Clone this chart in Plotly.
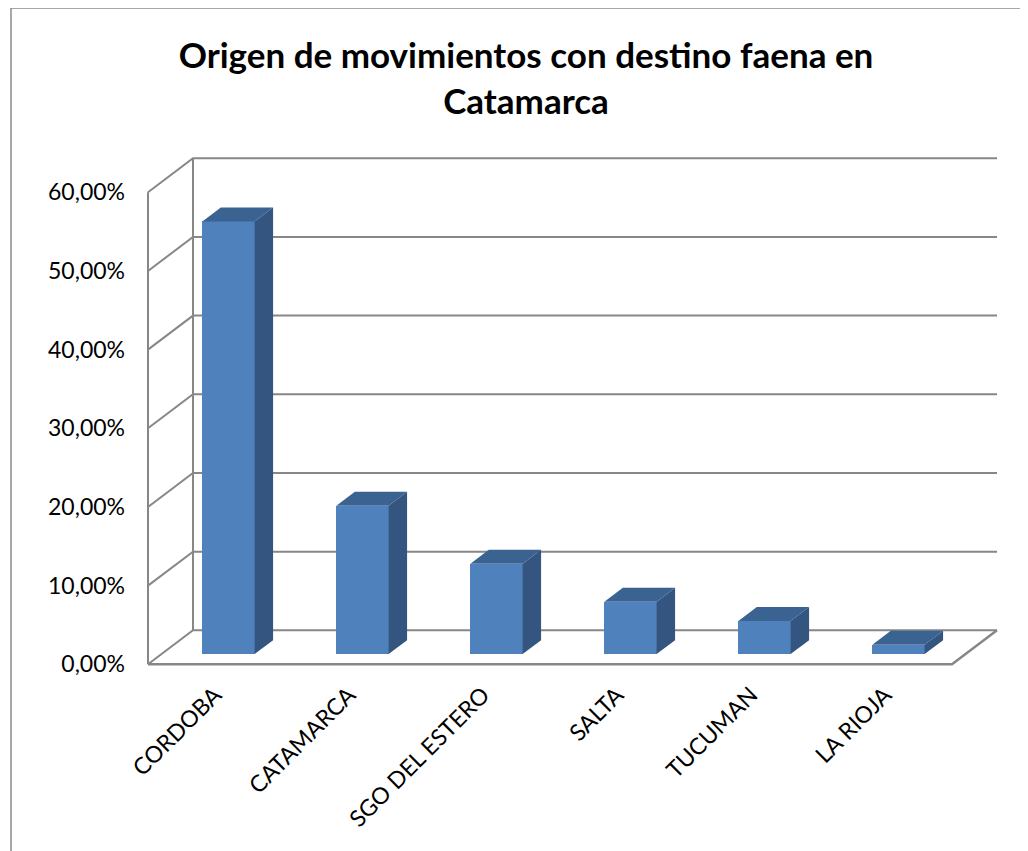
import plotly.graph_objects as go

# ---------------- data ----------------
categories = ["CORDOBA", "CATAMARCA", "SGO DEL ESTERO", "SALTA", "TUCUMAN", "LA RIOJA"]
values = [55.0, 18.85, 11.5, 6.65, 4.2, 1.2]          # percent
y_ticks = [0, 10, 20, 30, 40, 50, 60]
y_tick_labels = [f"{v:.2f}".replace(".", ",") + "%" for v in y_ticks]
title_text = "Origen de movimientos con destino faena en<br>Catamarca"

# ---------------- pseudo-3D geometry (axis units) ----------------
PX_X = 134.0          # px per category
PX_Y = 7.867          # px per percent
DX = 45 / PX_X        # depth offset in x units
DY = 34 / PX_Y        # depth offset in y units
BW = 0.39             # bar width
F0, F1 = 0.30, 0.71   # bar front/back depth fractions
W = F1 - F0

FRONT = "#4F81BD"
TOP = "#3B6392"
SIDE = "#33557F"
GRID = "#878787"

OFF = 8  # page body margin offset
WIDTH, HEIGHT = 1028, 851
# layout in figure pixels (page px minus OFF)
L, R, T, B = 144 - OFF, 18 + OFF, 150 - OFF, 184 + OFF
plot_w = WIDTH - L - R
plot_h = HEIGHT - T - B
x_min = -0.5 - (148 - (L + OFF)) / PX_X
x_max = x_min + plot_w / PX_X
y_min = -((T + OFF + plot_h) - 664.3) / PX_Y
y_max = y_min + plot_h / PX_Y

n = len(categories)
x_left, x_right = -0.5, n - 0.5

fig = go.Figure()

# walls / gridlines (shapes below traces)
shapes = []
line_style = dict(color=GRID, width=2)
for v in y_ticks:
    path = f"M {x_left},{v} L {x_left + DX},{v + DY} L {x_right + DX},{v + DY}"
    shapes.append(dict(type="path", path=path, xref="x", yref="y", line=line_style, layer="below"))
# front left axis line
shapes.append(dict(type="line", xref="x", yref="y", x0=x_left, x1=x_left, y0=0, y1=y_ticks[-1],
                   line=line_style, layer="below"))
# back left vertical
shapes.append(dict(type="line", xref="x", yref="y", x0=x_left + DX, x1=x_left + DX, y0=DY,
                   y1=y_ticks[-1] + DY, line=line_style, layer="below"))
# floor front edge and right edge
shapes.append(dict(type="path", xref="x", yref="y",
                   path=f"M {x_left},0 L {x_right},0 L {x_right + DX},{DY}",
                   line=dict(color=GRID, width=2.5), layer="below"))

# outer chart border (page pixel positions)
def xp(px):
    return (px - OFF - L) / plot_w

def yp(py):
    return (HEIGHT - B - (py - OFF)) / plot_h

shapes.append(dict(type="rect", xref="paper", yref="paper", x0=xp(11), x1=xp(1100), y0=yp(8), y1=yp(900),
                   line=dict(color="#8C8C8C", width=1.5), fillcolor="rgba(0,0,0,0)", layer="below"))

# front faces as bars
xs = list(range(n))
fig.add_trace(go.Bar(
    x=[i + F0 * DX for i in xs], y=values, base=F0 * DY, width=BW,
    marker=dict(color=FRONT, line=dict(width=0)), showlegend=False, hoverinfo="skip"))

# top and side faces
tx, ty, sx, sy = [], [], [], []
for i, v in zip(xs, values):
    x0 = i - BW / 2 + F0 * DX
    x1 = x0 + BW
    yb = F0 * DY
    yt = v + yb
    tx += [x0, x1, x1 + W * DX, x0 + W * DX, x0, None]
    ty += [yt, yt, yt + W * DY, yt + W * DY, yt, None]
    sx += [x1, x1, x1 + W * DX, x1 + W * DX, x1, None]
    sy += [yb, yt, yt + W * DY, yb + W * DY, yb, None]

fig.add_trace(go.Scatter(x=sx, y=sy, mode="lines", fill="toself", fillcolor=SIDE,
                         line=dict(width=0, color=SIDE), showlegend=False, hoverinfo="skip"))
fig.add_trace(go.Scatter(x=tx, y=ty, mode="lines", fill="toself", fillcolor=TOP,
                         line=dict(width=0, color=TOP), showlegend=False, hoverinfo="skip"))

fig.update_layout(
    width=WIDTH, height=HEIGHT,
    margin=dict(l=L, r=R, t=T, b=B, autoexpand=False),
    paper_bgcolor="white", plot_bgcolor="white",
    shapes=shapes,
    font=dict(family="Lato", color="black"),
    title=dict(text=title_text, x=518 / WIDTH, xref="container", xanchor="center",
               y=1 - 60 / HEIGHT, yref="container", yanchor="top",
               font=dict(family="Lato", size=35, weight="bold", color="black")),
    xaxis=dict(range=[x_min, x_max], tickvals=xs, ticktext=categories, tickangle=-45,
               showgrid=False, zeroline=False, showline=False, ticks="", automargin=False,
               tickfont=dict(size=23, family="Lato"), ticklabelstandoff=9, fixedrange=True),
    yaxis=dict(range=[y_min, y_max], tickvals=y_ticks, ticktext=y_tick_labels,
               showgrid=False, zeroline=False, showline=False, ticks="", automargin=False,
               tickfont=dict(size=23, family="Lato"), ticklabelstandoff=18, fixedrange=True),
    bargap=0,
)

fig.write_html("out.html")
